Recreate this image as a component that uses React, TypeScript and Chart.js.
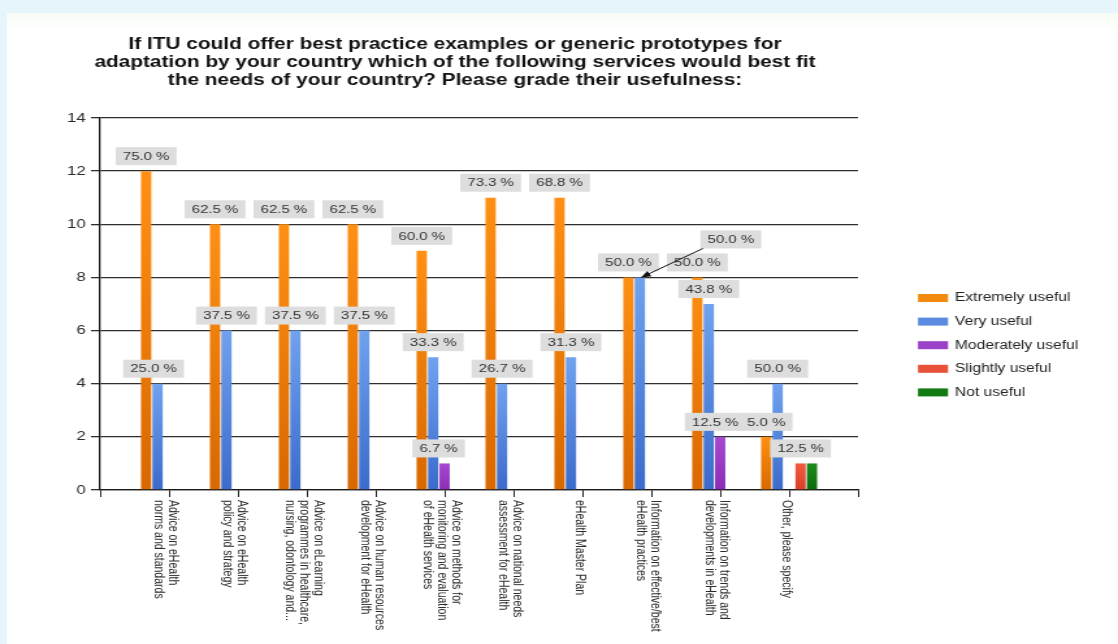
import React, { useEffect, useRef } from 'react';
import { Chart, registerables } from 'chart.js';

Chart.register(...registerables);

// ---------- data ----------
const TITLE_LINES = [
  'If ITU could offer best practice examples or generic prototypes for',
  'adaptation by your country which of the following services would best fit',
  'the needs of your country? Please grade their usefulness:',
];

const CATEGORIES: string[][] = [
  ['Advice on eHealth', 'norms and standards'],
  ['Advice on eHealth', 'policy and strategy'],
  ['Advice on eLearning', 'programmes in healthcare,', 'nursing, odontology and...'],
  ['Advice on human resources', 'development for eHealth'],
  ['Advice on methods for', 'monitoring and evaluation', 'of eHealth services'],
  ['Advice on national needs', 'assessment for eHealth'],
  ['eHealth Master Plan'],
  ['Information on effective/best', 'eHealth practices'],
  ['Information on trends and', 'developments in eHealth'],
  ['Other, please specify'],
];

const SERIES_NAMES = ['Extremely useful', 'Very useful', 'Moderately useful', 'Slightly useful', 'Not useful'];

const EXTREMELY = [12, 10, 10, 10, 9, 11, 11, 8, 8, 2];
const VERY = [4, 6, 6, 6, 5, 4, 5, 8, 7, 4];
const MODERATELY = [null, null, null, null, 1, null, null, null, 2, null];
const SLIGHTLY = [null, null, null, null, null, null, null, null, null, 1];
const NOT_USEFUL = [null, null, null, null, null, null, null, null, null, 1];

const EXTREMELY_PCT = ['75.0 %', '62.5 %', '62.5 %', '62.5 %', '60.0 %', '73.3 %', '68.8 %', '50.0 %', '50.0 %', '5.0 %'];
const VERY_PCT = ['25.0 %', '37.5 %', '37.5 %', '37.5 %', '33.3 %', '26.7 %', '31.3 %', '50.0 %', '43.8 %', '50.0 %'];
const MODERATELY_PCT = [null, null, null, null, '6.7 %', null, null, null, '12.5 %', null];
const SLIGHTLY_PCT = [null, null, null, null, null, null, null, null, null, '12.5 %'];
const NOT_USEFUL_PCT = [null, null, null, null, null, null, null, null, null, null];

const Y_MIN = 0;
const Y_MAX = 14;
const Y_STEP = 2;

// ---------- styles / layout ----------
const S = 1.3; // horizontal stretch of the canvas
const PAGE_W = 1118;
const PAGE_H = 644;
const CW = Math.round(PAGE_W / S);
const FONT = 'Arial, "Liberation Sans", sans-serif';

const COLORS = [
  { top: '#FF9014', bottom: '#D86800', legend: '#F28A10' },
  { top: '#70A2EF', bottom: '#3B6BCB', legend: '#5B8BE0' },
  { top: '#A84AD0', bottom: '#8A2DB5', legend: '#9B40C8' },
  { top: '#F25A40', bottom: '#D8402A', legend: '#E8503A' },
  { top: '#1C8C1C', bottom: '#0E6A0E', legend: '#137A13' },
];

// label nudges in page px: key "series-index"
const NUDGE: Record<string, [number, number]> = {
  '1-0': [-4, 0],
  '2-4': [-6, 0],
  '2-8': [-5, 0],
};
// callout label with an arrow (page px offset of box centre from bar centre, box bottom offset)
const CALLOUT_KEY = '1-7';
const CALLOUT_DX = 91;
const CALLOUT_DY = -29;

const pad = (arr: (number | null)[]) => [null, ...arr, null];

export default function App() {
  const ref = useRef<HTMLCanvasElement>(null);

  useEffect(() => {
    const canvas = ref.current;
    if (!canvas) return;

    const values = [EXTREMELY, VERY, MODERATELY, SLIGHTLY, NOT_USEFUL];
    const pcts = [EXTREMELY_PCT, VERY_PCT, MODERATELY_PCT, SLIGHTLY_PCT, NOT_USEFUL_PCT];

    const overlay = {
      id: 'overlay',
      afterDatasetsDraw(chart: any) {
        const ctx = chart.ctx as CanvasRenderingContext2D;
        ctx.save();
        ctx.font = `11.5px ${FONT}`;
        ctx.textAlign = 'center';
        ctx.textBaseline = 'middle';
        pcts.forEach((arr, di) => {
          const meta = chart.getDatasetMeta(di);
          arr.forEach((txt, i) => {
            if (!txt) return;
            const bar = meta.data[i + 1];
            if (!bar) return;
            const key = `${di}-${i}`;
            const w = ctx.measureText(txt).width + 11;
            const h = 18;
            let cx = bar.x;
            let bottom = bar.y - 6;
            const isCallout = key === CALLOUT_KEY;
            if (isCallout) {
              cx += CALLOUT_DX / S;
              bottom = bar.y + CALLOUT_DY;
            } else if (NUDGE[key]) {
              cx += NUDGE[key][0] / S;
              bottom += NUDGE[key][1];
            }
            ctx.fillStyle = '#DDDDDD';
            ctx.fillRect(cx - w / 2, bottom - h, w, h);
            ctx.fillStyle = '#333333';
            ctx.fillText(txt, cx, bottom - h / 2 + 0.5);
            if (isCallout) {
              const x0 = cx - w / 2 + 2;
              const y0 = bottom;
              const x1 = bar.x + 1;
              const y1 = bar.y;
              ctx.strokeStyle = '#111';
              ctx.lineWidth = 1;
              ctx.beginPath();
              ctx.moveTo(x0, y0);
              ctx.lineTo(x1, y1);
              ctx.stroke();
              const ang = Math.atan2(y1 - y0, x1 - x0);
              const L = 8;
              ctx.fillStyle = '#111';
              ctx.beginPath();
              ctx.moveTo(x1, y1);
              ctx.lineTo(x1 - L * Math.cos(ang - 0.4), y1 - L * Math.sin(ang - 0.4));
              ctx.lineTo(x1 - L * Math.cos(ang + 0.4), y1 - L * Math.sin(ang + 0.4));
              ctx.closePath();
              ctx.fill();
            }
          });
        });
        ctx.restore();
      },
      afterDraw(chart: any) {
        const ctx = chart.ctx as CanvasRenderingContext2D;
        const area = chart.chartArea;
        ctx.save();
        // title
        ctx.fillStyle = '#111111';
        ctx.font = `bold 16px ${FONT}`;
        ctx.textAlign = 'center';
        ctx.textBaseline = 'middle';
        TITLE_LINES.forEach((t, k) => ctx.fillText(t, 455 / S, 45 + k * 18));

        // x category labels, rotated clockwise
        const xs = chart.scales.x;
        ctx.font = `10.5px ${FONT}`;
        ctx.fillStyle = '#2A2A2A';
        ctx.textAlign = 'left';
        ctx.textBaseline = 'middle';
        const lh = 14 / S;
        CATEGORIES.forEach((lines, i) => {
          const cx = xs.getPixelForValue(i + 1) - 3 / S;
          ctx.save();
          ctx.translate(cx, area.bottom + 10);
          ctx.rotate(Math.PI / 2);
          lines.forEach((ln, k) => {
            const ry = (k - (lines.length - 1) / 2) * lh;
            ctx.fillText(ln, 0, ry);
          });
          ctx.restore();
        });

        // legend
        ctx.font = `12px ${FONT}`;
        ctx.textAlign = 'left';
        ctx.textBaseline = 'middle';
        SERIES_NAMES.forEach((name, k) => {
          const y = 298 + k * 23.6;
          ctx.fillStyle = COLORS[k].legend;
          ctx.fillRect(918 / S, y - 4, 30 / S, 8);
          ctx.fillStyle = '#222222';
          ctx.fillText(name, 955 / S, y);
        });
        ctx.restore();
      },
    };

    const datasets = values.map((vals, di) => ({
      label: SERIES_NAMES[di],
      data: pad(vals),
      categoryPercentage: 0.83,
      barPercentage: 0.9,
      borderWidth: 0,
      backgroundColor: (c: any) => {
        const chart = c.chart;
        const area = chart.chartArea;
        if (!area || c.raw == null || !chart.scales.y) return COLORS[di].legend;
        const yTop = chart.scales.y.getPixelForValue(c.raw);
        if (!isFinite(yTop) || yTop >= area.bottom) return COLORS[di].legend;
        const g = chart.ctx.createLinearGradient(0, yTop, 0, area.bottom);
        g.addColorStop(0, COLORS[di].top);
        g.addColorStop(1, COLORS[di].bottom);
        return g;
      },
    }));

    const chart = new Chart(canvas, {
      type: 'bar',
      data: {
        labels: ['', ...CATEGORIES.map((c) => c.join(' ')), ''],
        datasets,
      },
      options: {
        responsive: false,
        animation: false,
        devicePixelRatio: 1,
        layout: { padding: { top: 118, right: CW - Math.round(858 / S), left: 0, bottom: 0 } },
        plugins: {
          legend: { display: false },
          title: { display: false },
          tooltip: { enabled: false },
        },
        scales: {
          x: {
            type: 'category',
            offset: false,
            grid: {
              offset: false,
              drawOnChartArea: false,
              drawTicks: true,
              tickLength: 7,
              color: '#222222',
              lineWidth: 1,
            },
            border: { display: true, color: '#1A1A1A', width: 1.3 },
            ticks: { display: false, autoSkip: false },
            afterFit: (s: any) => {
              s.height = PAGE_H - 490;
            },
          },
          y: {
            min: Y_MIN,
            max: Y_MAX,
            ticks: {
              stepSize: Y_STEP,
              padding: 4,
              color: '#2A2A2A',
              font: { family: FONT, size: 13 },
            },
            grid: {
              color: '#2E2E2E',
              lineWidth: 1.3,
              tickLength: 7,
              drawTicks: true,
            },
            border: { display: true, color: '#1A1A1A', width: 1.3 },
            afterFit: (s: any) => {
              s.width = Math.round(100 / S);
            },
          },
        },
      },
      plugins: [overlay],
    } as any);

    return () => chart.destroy();
  }, []);

  return (
    <div style={{ position: 'fixed', left: 0, top: 0, width: PAGE_W, height: PAGE_H, background: '#E6F5FB', overflow: 'hidden' }}>
      <div
        style={{
          position: 'absolute',
          left: 7,
          top: 13,
          right: 0,
          bottom: 0,
          background: 'linear-gradient(#F6FCF4, #FFFFFF 18px)',
        }}
      />
      <canvas
        ref={ref}
        width={CW}
        height={PAGE_H}
        style={{ position: 'absolute', left: 0, top: 0, width: PAGE_W + 'px', height: PAGE_H + 'px' }}
      />
    </div>
  );
}
